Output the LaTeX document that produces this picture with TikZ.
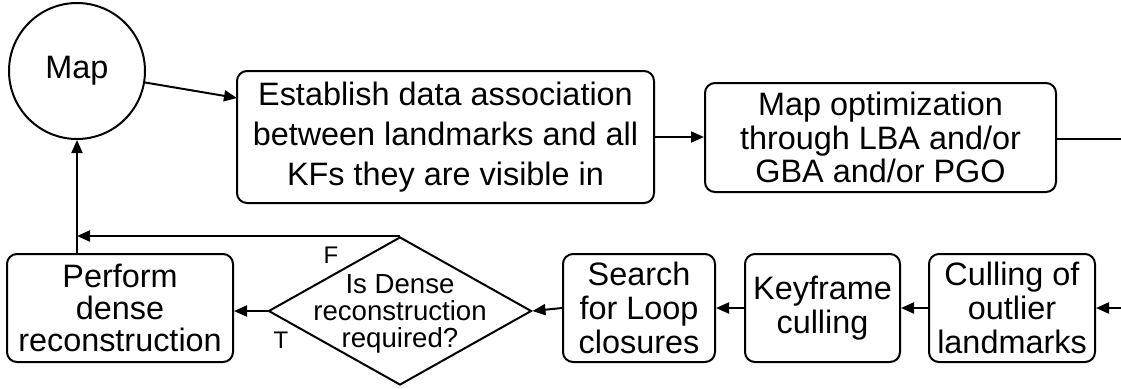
\documentclass[tikz,border=0pt]{standalone}
\usepackage{fontspec}
\setmainfont{Liberation Sans}
\usetikzlibrary{arrows.meta,shapes.geometric,calc}

\begin{document}
\begin{tikzpicture}[x=0.5pt,y=-0.5pt,
  line width=1pt,
  stepbox/.style={draw, rounded corners=5pt, align=center, inner sep=0pt},
  lowtext/.style={font=\fontsize{16.2}{17}\selectfont},
  arr/.style={-{Triangle[length=6.5pt,width=5.5pt]}},
  tag/.style={font=\fontsize{12}{13}\selectfont, inner sep=0pt}
]
\useasboundingbox (0,0) rectangle (1121,388);

% map store
\node[circle, draw, minimum size=68pt, inner sep=0pt, font=\fontsize{16.2}{18}\selectfont] (map) at (77,71) {Map};

% upper row
\node[stepbox, font=\fontsize{16.2}{20}\selectfont, minimum width=208.5pt, minimum height=66pt] (assoc) at (445.5,137)
  {Establish data association\\between landmarks and all\\KFs they are visible in};
\node[stepbox, font=\fontsize{16.2}{16.8}\selectfont, minimum width=175.5pt, minimum height=54.5pt] (opt) at (880.5,137.5)
  {Map optimization\\through LBA and/or\\GBA and/or PGO};
\coordinate (associn) at (237,98);
\coordinate (outR) at (1121,139);
\coordinate (inR) at (1121,308);

% lower row
\node[stepbox, lowtext, minimum width=83pt, minimum height=54pt] (cull) at (1012,308)
  {Culling of\\outlier\\landmarks};
\node[stepbox, lowtext, minimum width=77.5pt, minimum height=54pt] (kf) at (822.5,308)
  {Keyframe\\culling};
\node[stepbox, lowtext, minimum width=76pt, minimum height=54pt] (loop) at (639,308)
  {Search\\for Loop\\closures};
\node[diamond, draw, minimum width=131.5pt, minimum height=74pt, inner sep=0pt] (dense) at (400,311) {};
\node[align=center, inner sep=0pt, font=\fontsize{13.8}{13.6}\selectfont] at (400,314)
  {Is Dense\\reconstruction\\required?};
\node[stepbox, font=\fontsize{16.2}{15.8}\selectfont, minimum width=113pt, minimum height=54pt] (recon) at (120,308)
  {Perform\\dense\\reconstruction};

% branch labels
\node[tag] (flab) at (331,255) {F};
\node[tag] (tlab) at (281,340) {T};

% connectors
\draw[arr] (map) -- (associn);
\draw[arr] (assoc.east) -- (assoc.east -| opt.west);
\draw (opt.east |- outR) -- (outR);
\draw[arr] (inR) -- (cull.east |- inR);
\draw[arr] (cull.west) -- (kf.east);
\draw[arr] (kf.west) -- (loop.east);
\draw[arr] (loop.west) -- (dense.east);
\draw[arr] (dense.west) -- (dense.west -| recon.east);
\draw[arr] (dense.north) -- (dense.north -| map.south);
\draw[arr] (map.south |- recon.north) -- (map.south);
\end{tikzpicture}
\end{document}
